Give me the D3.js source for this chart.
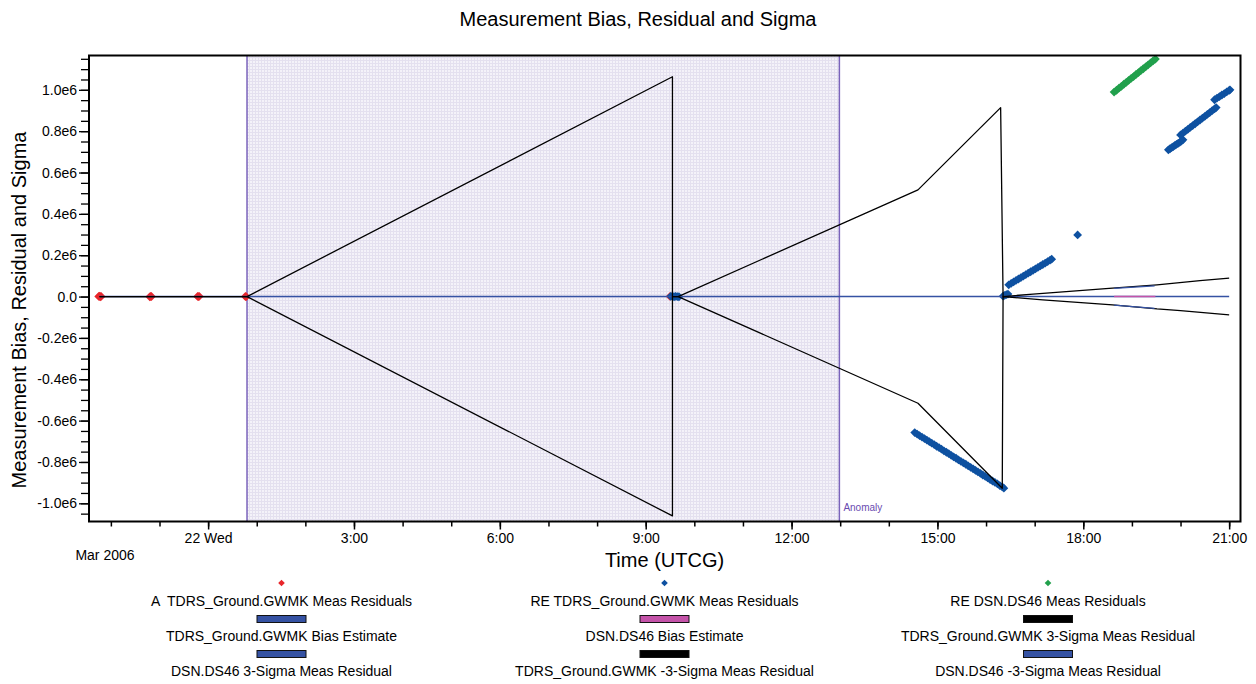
<!DOCTYPE html>
<html>
<head>
<meta charset="utf-8">
<script src="https://cdn.jsdelivr.net/npm/d3@7"></script>
<style>
  body { margin: 0; background: #fff; }
  svg { display: block; font-family: "Liberation Sans", Arial, sans-serif; }
</style>
</head>
<body>
<svg id="chart" width="1256" height="684"></svg>
<script>
// ---- Data (times are "DD HH:MM" in March 2006, UTCG) ----

// A TDRS_Ground.GWMK measurement residuals
const tdrsATimes = ["21 21:45","21 21:46","21 21:47","21 21:48","21 22:48","21 22:49","21 22:50",
  "21 23:47","21 23:48","21 23:49","22 00:46","22 00:47","22 09:30"];
const tdrsAValues = [900,1500,-800,600,-1200,900,300,700,-500,1100,400,-600,800];

// RE TDRS_Ground.GWMK measurement residuals
const tdrsRETimes = [
  "22 09:31","22 09:33","22 09:35","22 09:37","22 09:39","22 09:41",
  "22 14:32","22 14:35","22 14:38","22 14:41","22 14:44","22 14:47","22 14:50","22 14:53",
  "22 14:56","22 14:59","22 15:02","22 15:05","22 15:08","22 15:11","22 15:14","22 15:17",
  "22 15:20","22 15:23","22 15:26","22 15:29","22 15:32","22 15:35","22 15:38","22 15:41",
  "22 15:44","22 15:47","22 15:50","22 15:53","22 15:56","22 15:59","22 16:02","22 16:05",
  "22 16:08","22 16:11","22 16:14","22 16:17","22 16:20","22 16:22",
  "22 16:21","22 16:23","22 16:25","22 16:27",
  "22 16:28","22 16:31","22 16:34","22 16:37","22 16:40","22 16:43","22 16:46","22 16:49",
  "22 16:52","22 16:55","22 16:58","22 17:01","22 17:04","22 17:07","22 17:10","22 17:13",
  "22 17:16","22 17:19","22 17:21",
  "22 17:53",
  "22 19:45","22 19:47","22 19:49","22 19:51","22 19:53","22 19:55","22 19:57","22 19:59",
  "22 20:01","22 20:03",
  "22 20:00","22 20:03","22 20:06","22 20:09","22 20:12","22 20:15","22 20:18","22 20:21",
  "22 20:24","22 20:27","22 20:30","22 20:33","22 20:36","22 20:39","22 20:42","22 20:44",
  "22 20:42","22 20:45","22 20:48","22 20:51","22 20:54","22 20:57","22 21:00","22 21:01"];
const tdrsREValues = [
  1000,2000,-1000,1000,0,-1000,
  -658e3,-665e3,-673e3,-680e3,-687e3,-694e3,-702e3,-709e3,
  -716e3,-724e3,-731e3,-738e3,-746e3,-753e3,-760e3,-768e3,
  -775e3,-782e3,-790e3,-797e3,-804e3,-811e3,-819e3,-826e3,
  -833e3,-841e3,-848e3,-855e3,-863e3,-870e3,-877e3,-885e3,
  -892e3,-899e3,-906e3,-914e3,-921e3,-927e3,
  2e3,6e3,9e3,12e3,
  57e3,64e3,71e3,78e3,85e3,92e3,99e3,106e3,
  113e3,120e3,127e3,134e3,141e3,148e3,155e3,162e3,
  169e3,176e3,181e3,
  298e3,
  710e3,715e3,720e3,725e3,731e3,736e3,741e3,746e3,
  752e3,758e3,
  782e3,791e3,800e3,809e3,818e3,827e3,836e3,845e3,
  854e3,863e3,872e3,881e3,890e3,899e3,908e3,914e3,
  952e3,960e3,967e3,975e3,982e3,990e3,997e3,1000e3];

// RE DSN.DS46 measurement residuals
const dsnRETimes = ["22 18:38","22 18:41","22 18:44","22 18:47","22 18:50","22 18:53",
  "22 18:56","22 18:59","22 19:02","22 19:05","22 19:08","22 19:11","22 19:14","22 19:17",
  "22 19:20","22 19:23","22 19:26","22 19:29"];
const dsnREValues = [989e3,998e3,1008e3,1017e3,1027e3,1036e3,1046e3,1055e3,1064e3,
  1074e3,1083e3,1093e3,1102e3,1111e3,1121e3,1130e3,1140e3,1149e3];

// Bias estimates
const tdrsBiasTimes = ["21 21:46","22 21:00"];
const tdrsBiasValues = [0, 0];
const dsnBiasTimes = ["22 18:38","22 19:29"];
const dsnBiasValues = [0, 0];

// 3-sigma envelopes
const tdrsSigTimes = ["21 21:46","22 00:48","22 09:33","22 09:33","22 09:40","22 14:36",
  "22 16:18","22 16:21","22 16:58","22 18:36","22 19:31","22 20:24","22 21:00"];
const tdrsSigValues = [0,0,1063e3,0,0,516e3,914e3,0,12e3,41e3,57e3,77e3,89e3];
const tdrsNegSigTimes = ["21 21:46","22 00:48","22 09:33","22 09:33","22 09:40","22 14:36",
  "22 16:20","22 16:21","22 17:10","22 18:36","22 19:31","22 20:00","22 21:00"];
const tdrsNegSigValues = [0,0,-1061e3,0,0,-516e3,-927e3,0,-16e3,-40e3,-60e3,-68e3,-89e3];
const dsnSigTimes = ["22 18:38","22 19:28"];
const dsnSigValues = [40e3, 52e3];
const dsnNegSigTimes = ["22 18:38","22 19:28"];
const dsnNegSigValues = [-41e3, -57e3];

// Anomaly interval
const anomalyTimes = ["22 00:48","22 12:59"];

// Axis ticks and labels
const xMajorTimes = ["22 00:00","22 03:00","22 06:00","22 09:00","22 12:00","22 15:00","22 18:00","22 21:00"];
const xMajorLabels = ["22 Wed","3:00","6:00","9:00","12:00","15:00","18:00","21:00"];
const yMajorValues = [-1e6,-0.8e6,-0.6e6,-0.4e6,-0.2e6,0,0.2e6,0.4e6,0.6e6,0.8e6,1e6];
const yMajorLabels = ["-1.0e6","-0.8e6","-0.6e6","-0.4e6","-0.2e6","0.0","0.2e6","0.4e6","0.6e6","0.8e6","1.0e6"];

// Legend entries, in drawing order
const legendNames = [
  "A  TDRS_Ground.GWMK Meas Residuals",
  "RE TDRS_Ground.GWMK Meas Residuals",
  "RE DSN.DS46 Meas Residuals",
  "TDRS_Ground.GWMK Bias Estimate",
  "DSN.DS46 Bias Estimate",
  "TDRS_Ground.GWMK 3-Sigma Meas Residual",
  "DSN.DS46 3-Sigma Meas Residual",
  "TDRS_Ground.GWMK -3-Sigma Meas Residual",
  "DSN.DS46 -3-Sigma Meas Residual"];
const legendKinds = ["point","point","point","line","line","line","line","line","line"];

// ---- Drawing ----
const parseT = d3.utcParse("%Y-%m-%d %H:%M");
const T = s => parseT("2006-03-" + s);
const zip = (ts, vs) => ts.map((t, i) => ({ t: T(t), v: vs[i] }));

const colors = {
  red: "#e8262b", blue: "#0e51a1", green: "#21a04c",
  bias: "#3552a3", magenta: "#c453a9", sigma: "#000000", dsnSigma: "#3552a3",
  anomaly: "#7a63bb"
};
const legendColors = [colors.red, colors.blue, colors.green, colors.bias, colors.magenta,
  colors.sigma, colors.dsnSigma, colors.sigma, colors.dsnSigma];

const svg = d3.select("#chart");
const plot = { left: 89, top: 55.5, right: 1240.5, bottom: 521.5 };

const x = d3.scaleUtc()
  .domain([T("21 21:33"), T("22 21:14")])
  .range([plot.left, plot.right]);
const y = d3.scaleLinear()
  .domain([-1.088e6, 1.166e6])
  .range([plot.bottom, plot.top]);

svg.append("rect").attr("width", 1256).attr("height", 684).attr("fill", "#fff");

const defs = svg.append("defs");
defs.append("clipPath").attr("id", "clip")
  .append("rect")
  .attr("x", plot.left).attr("y", plot.top)
  .attr("width", plot.right - plot.left).attr("height", plot.bottom - plot.top);

// fine grid texture for the anomaly interval
const pat = defs.append("pattern").attr("id", "grid")
  .attr("width", 3).attr("height", 3).attr("patternUnits", "userSpaceOnUse");
pat.append("rect").attr("width", 3).attr("height", 3).attr("fill", "#f4f2f9");
pat.append("path").attr("d", "M0,0.5H3M0.5,0V3").attr("stroke", "#e4e0ef").attr("stroke-width", 1);

// anomaly band
const ax0 = x(T(anomalyTimes[0])), ax1 = x(T(anomalyTimes[1]));
svg.append("rect")
  .attr("x", ax0).attr("y", plot.top)
  .attr("width", ax1 - ax0).attr("height", plot.bottom - plot.top)
  .attr("fill", "url(#grid)");
svg.selectAll("line.anom").data([ax0, ax1]).join("line")
  .attr("class", "anom")
  .attr("x1", d => d).attr("x2", d => d)
  .attr("y1", plot.top).attr("y2", plot.bottom)
  .attr("stroke", colors.anomaly).attr("stroke-width", 1.5);
svg.append("text")
  .attr("x", ax1 + 4).attr("y", 511)
  .attr("font-size", 10).attr("fill", "#6a4ab0")
  .text("Anomaly");

// axes
const gx = svg.append("g").attr("transform", `translate(0,${plot.bottom})`);
gx.call(d3.axisBottom(x)
  .tickValues(x.ticks(d3.utcHour.every(1)))
  .tickSize(5).tickFormat(""));
gx.call(g => g.select(".domain").remove());
const gxMajor = svg.append("g").attr("transform", `translate(0,${plot.bottom})`);
gxMajor.call(d3.axisBottom(x)
  .tickValues(xMajorTimes.map(T))
  .tickFormat((d, i) => xMajorLabels[i])
  .tickSize(8).tickPadding(3.5));
gxMajor.select(".domain").remove();
gxMajor.selectAll("text").attr("font-size", 14).attr("font-family", null).attr("fill", "#000");
gxMajor.selectAll("line").attr("stroke", "#000").attr("stroke-width", 1.5);
gx.selectAll("line").attr("stroke", "#000").attr("stroke-width", 1.5);

svg.append("text")
  .attr("x", 105).attr("y", 560)
  .attr("text-anchor", "middle").attr("font-size", 14)
  .text("Mar 2006");

const gyMinor = svg.append("g").attr("transform", `translate(${plot.left},0)`);
gyMinor.call(d3.axisLeft(y)
  .tickValues(d3.range(-21, 24).map(k => k * 0.05e6))
  .tickSize(8).tickFormat(""));
gyMinor.select(".domain").remove();
gyMinor.selectAll("line").attr("stroke", "#000").attr("stroke-width", 1.3);
const gy = svg.append("g").attr("transform", `translate(${plot.left},0)`);
gy.call(d3.axisLeft(y)
  .tickValues(yMajorValues)
  .tickFormat((d, i) => yMajorLabels[i])
  .tickSize(10).tickPadding(2));
gy.select(".domain").remove();
gy.selectAll("text").attr("font-size", 14).attr("font-family", null).attr("fill", "#000");
gy.selectAll("line").attr("stroke", "#000").attr("stroke-width", 1.3);

// data layer
const data = svg.append("g").attr("clip-path", "url(#clip)");
const diamond = r => `M0,${-r}L${r},0L0,${r}L${-r},0Z`;

function points(series, color) {
  data.append("g").selectAll("path").data(series).join("path")
    .attr("d", diamond(4.4))
    .attr("transform", d => `translate(${x(d.t)},${y(d.v)})`)
    .attr("fill", color);
}
points(zip(tdrsATimes, tdrsAValues), colors.red);
points(zip(tdrsRETimes, tdrsREValues), colors.blue);
points(zip(dsnRETimes, dsnREValues), colors.green);

const line = d3.line().x(d => x(d.t)).y(d => y(d.v));
function path(series, color, width) {
  data.append("path").datum(series)
    .attr("d", line)
    .attr("fill", "none")
    .attr("stroke", color)
    .attr("stroke-width", width)
    .attr("stroke-linejoin", "round");
}
path(zip(tdrsBiasTimes, tdrsBiasValues), colors.bias, 1.5);
path(zip(dsnBiasTimes, dsnBiasValues), colors.magenta, 1.5);
path(zip(tdrsSigTimes, tdrsSigValues), colors.sigma, 1.3);
path(zip(dsnSigTimes, dsnSigValues), colors.dsnSigma, 1.3);
path(zip(tdrsNegSigTimes, tdrsNegSigValues), colors.sigma, 1.3);
path(zip(dsnNegSigTimes, dsnNegSigValues), colors.dsnSigma, 1.3);

// plot frame
svg.append("rect")
  .attr("x", plot.left).attr("y", plot.top)
  .attr("width", plot.right - plot.left).attr("height", plot.bottom - plot.top)
  .attr("fill", "none").attr("stroke", "#000").attr("stroke-width", 2);

// titles
svg.append("text")
  .attr("x", 638).attr("y", 26)
  .attr("text-anchor", "middle").attr("font-size", 20)
  .text("Measurement Bias, Residual and Sigma");
svg.append("text")
  .attr("x", 664.5).attr("y", 567)
  .attr("text-anchor", "middle").attr("font-size", 20)
  .text("Time (UTCG)");
svg.append("text")
  .attr("transform", "translate(26,310) rotate(-90)")
  .attr("text-anchor", "middle").attr("font-size", 20)
  .text("Measurement Bias, Residual and Sigma");

// legend: three columns, three rows
const colX = [281.5, 664.5, 1048];
const rowSym = [583, 619, 654];
const rowText = [606, 641, 676];
const leg = svg.append("g").selectAll("g").data(legendNames).join("g");
leg.each(function (name, i) {
  const g = d3.select(this);
  const cx = colX[i % 3], r = Math.floor(i / 3);
  if (legendKinds[i] === "point") {
    g.append("path").attr("d", diamond(3.3))
      .attr("transform", `translate(${cx},${rowSym[r]})`)
      .attr("fill", legendColors[i]);
  } else {
    g.append("rect")
      .attr("x", cx - 24.5).attr("y", rowSym[r] - 3.5)
      .attr("width", 49).attr("height", 7)
      .attr("fill", legendColors[i])
      .attr("stroke", "#111").attr("stroke-width", 1);
  }
  g.append("text")
    .attr("x", cx).attr("y", rowText[r])
    .attr("text-anchor", "middle").attr("font-size", 14)
    .style("white-space", "pre")
    .text(name);
});
</script>
</body>
</html>
